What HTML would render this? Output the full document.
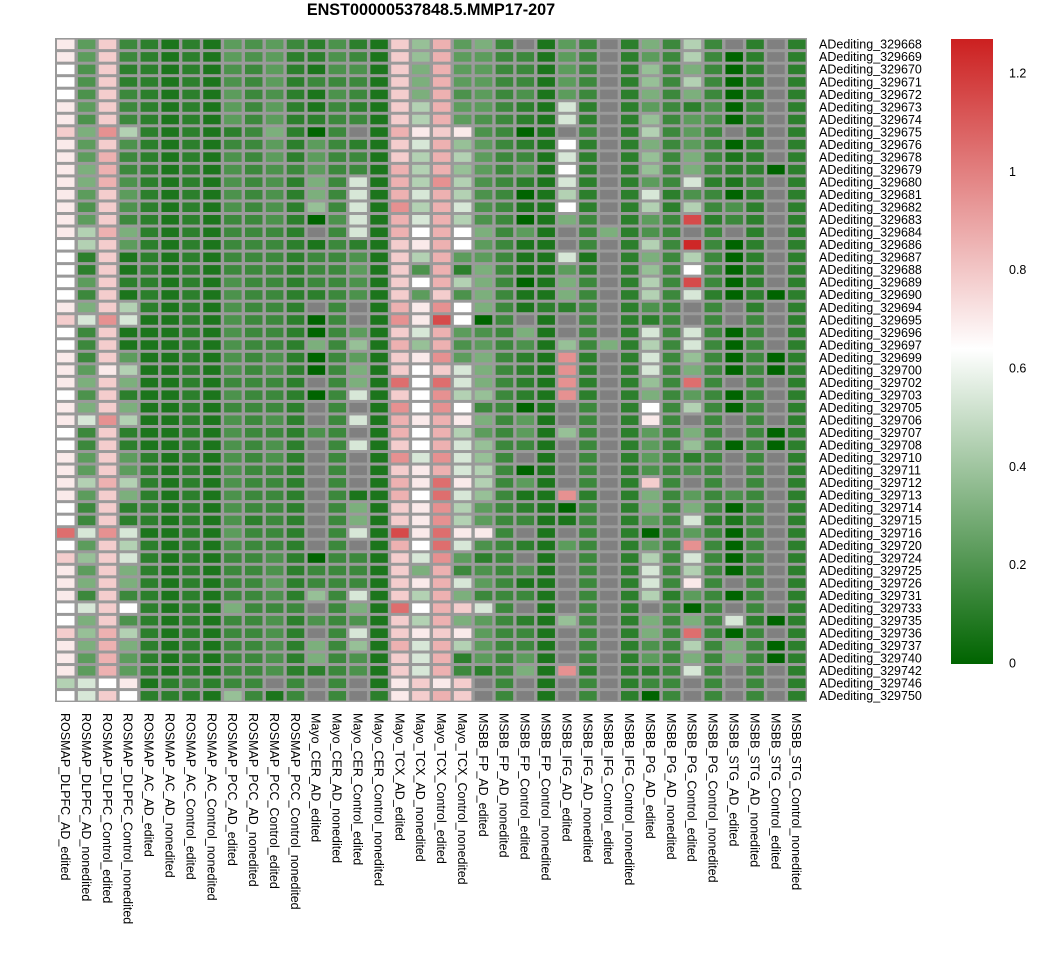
<!DOCTYPE html>
<html><head><meta charset="utf-8"><style>
html,body{margin:0;padding:0;background:#fff;}
svg text{font-family:"Liberation Sans",sans-serif;}
</style></head><body>
<svg id="chart" width="1059" height="953" xmlns="http://www.w3.org/2000/svg">
<text x="431" y="15" text-anchor="middle" font-size="16.2" font-weight="bold">ENST00000537848.5.MMP17-207</text>
<defs><linearGradient id="cb" x1="0" y1="1" x2="0" y2="0">
<stop offset="0" stop-color="#006400"/><stop offset="0.504" stop-color="#ffffff"/><stop offset="1" stop-color="#cc2020"/></linearGradient></defs>
<rect x="951" y="39" width="42" height="625" fill="url(#cb)"/>
<g id="cells"></g><g id="rowlabels"></g><g id="collabels"></g><g id="legendticks"></g>
</svg>
<script>
const columns=["ROSMAP_DLPFC_AD_edited","ROSMAP_DLPFC_AD_nonedited","ROSMAP_DLPFC_Control_edited","ROSMAP_DLPFC_Control_nonedited","ROSMAP_AC_AD_edited","ROSMAP_AC_AD_nonedited","ROSMAP_AC_Control_edited","ROSMAP_AC_Control_nonedited","ROSMAP_PCC_AD_edited","ROSMAP_PCC_AD_nonedited","ROSMAP_PCC_Control_edited","ROSMAP_PCC_Control_nonedited","Mayo_CER_AD_edited","Mayo_CER_AD_nonedited","Mayo_CER_Control_edited","Mayo_CER_Control_nonedited","Mayo_TCX_AD_edited","Mayo_TCX_AD_nonedited","Mayo_TCX_Control_edited","Mayo_TCX_Control_nonedited","MSBB_FP_AD_edited","MSBB_FP_AD_nonedited","MSBB_FP_Control_edited","MSBB_FP_Control_nonedited","MSBB_IFG_AD_edited","MSBB_IFG_AD_nonedited","MSBB_IFG_Control_edited","MSBB_IFG_Control_nonedited","MSBB_PG_AD_edited","MSBB_PG_AD_nonedited","MSBB_PG_Control_edited","MSBB_PG_Control_nonedited","MSBB_STG_AD_edited","MSBB_STG_AD_nonedited","MSBB_STG_Control_edited","MSBB_STG_Control_nonedited"];
const rowIds=["329668","329669","329670","329671","329672","329673","329674","329675","329676","329678","329679","329680","329681","329682","329683","329684","329686","329687","329688","329689","329690","329694","329695","329696","329697","329699","329700","329702","329703","329705","329706","329707","329708","329710","329711","329712","329713","329714","329715","329716","329720","329724","329725","329726","329731","329733","329735","329736","329737","329740","329742","329746","329750"];
const codeValues={"0":0,"1":0.07,"2":0.11,"3":0.15,"4":0.19,"5":0.23,"6":0.31,"7":0.38,"8":0.45,"9":0.54,"w":0.64,"a":0.70,"b":0.78,"c":0.86,"d":0.95,"e":1.05,"f":1.15,"g":1.25};
const values=[
["a","5","b","3","2","1","2","1","5","4","5","3","2","4","2","1","b","7","c","5","6","3",".","1","5","3",".","2","6","3","8","3",".","2",".","2"],
["a","5","b","3","2","1","2","1","5","4","5","2","2","4","3","1","b","7","c","5","5","3","3","1","5","3",".","2","5","3","8","3","0","2",".","2"],
["w","4","b","2","2","1","2","1","4","3","5","2","1","4","4","1","b","6","c","5","5","3","3","1","5","3",".","2","7","3","6","3","0","2",".","2"],
["w","4","b","2","2","1","2","1","4","3","5","2","3","3","3","1","b","6","c","5","5","3","3","1","5","3",".","2","7","3","8","3","0","2",".","2"],
["w","4","b","3","2","1","2","1","5","3","4","2","1","4","3","1","b","6","c","4","5","3","4","1","5","3",".","2","6","3","6","3","0","2",".","2"],
["a","5","b","3","2","1","2","1","5","3","5","2","1","3","2","1","b","8","c","5","5","3","2","1","9","2",".","2","5","3","2","4","0","3",".","2"],
["a","4","b","3","2","1","2","1","5","3","5","2","2","3","3","1","b","8","c","5","4","3","2","1","9","2",".","2","7","3","5","4","0","3",".","2"],
["b","6","d","8","2","1","2","1","2","3","6","2","0","3",".","1","c","a","b","a","4","3","0","1",".","3",".","2","8","3","5","3",".","2",".","2"],
["a","5","b","4","2","1","2","1","3","3","5","2","5","3","2","1","b","9","c","7","5","3","2","1","w","2",".","2","6","3","5","3","0","2",".","2"],
["a","5","c","3","2","1","2","1","4","3","5","2","5","3","3","1","b","8","c","8","5","3","3","1","9","2",".","2","7","3","6","3","1","2",".","2"],
["a","6","c","3","2","1","2","1","4","3","4","3","5","3","3","1","c","8","c","7","5","3","5","1","w","2",".","2","7","3","6","3","2","2","0","2"],
["a","6","c","4","2","1","2","1","4","3","4","2","6","3","9","1","c","8","d","8","4","3","2","1","9","2",".","2","5","3","9","2","1","3",".","2"],
["a","5","b","5","2","1","2","1","4","3","4","2","6","3","9","1","c","9","c","8","4","3","0","1","8","2",".","2","9","2","4","3","0","2",".","2"],
["a","4","b","4","2","1","2","1","4","3","4","2","7","3","9","1","d","8","c","9","4","3","1","1","w","2",".","2","8","2","8","3","4","2",".","2"],
["a","5","b","3","2","1","2","1","3","3","4","2","0","4","9","1","c","9","c","8","4","3","0","1","6","3",".","2","5","3","f","2","3","2",".","2"],
["a","8","c","6","2","1","2","1","3","3","3","2",".","3","9","1","c","w","c","w","6","3","5","1",".","3","6","2","4","3",".","3",".","2",".","2"],
["w","8","b","5","2","1","2","1","3","3","3","2","1","3","2","1","b","a","c","w","5","3","1","1",".","3",".","2","8","3","g","3","0","2",".","2"],
["w","2","b","1","2","1","2","1","3","3","3","2","3","3","4","1","b","8","c","5","5","3","1","1","9","1",".","2","6","3","8","3","0","2",".","2"],
["w","2","b","1","2","1","2","1","3","3","3","2","3","3","5","1","b","4","c","2","6","3","1","1","5","2",".","2","7","3","w","3","0","2",".","2"],
["w","5","b","2","2","1","2","1","4","3","3","2","3","3","4","1","b","w","c","8","6","3","0","1","6","3",".","2","8","3","f","3","0","2",".","2"],
["w","3","b","1","2","1","2","1","4","3","3","2","2","3","4","1","b","5","b","4","6","3","1","1","6","3",".","2","8","3","9","2","0","2","0","2"],
["a","6","b","8","2","1","2","1","4","3","3","2",".","3",".","1","c","a","d","w","6","3","1","2","2","3",".","2","4","3",".","3",".","2",".","2"],
["b","9","d","9","1","1","2","1","4","3","3","2","0","3",".","1","d","a","f","w","0","3",".","1",".","3",".","2","2","3",".","3",".","3",".","2"],
["w","3","b","1","1","1","2","1","4","3","3","2","0","3","5","1","b","9","c","5","4","3","6","1",".","3",".","2","9","3","9","3","0","3",".","2"],
["w","3","b","1","1","1","2","1","4","3","3","2","6","3","7","1","c","7","c","4","5","3","4","1","7","3","6","2","8","3","9","3","0","3",".","2"],
["a","3","b","5","1","1","2","1","4","3","4","2","0","3","5","1","b","a","d","5","6","3","2","1","d","2",".","2","9","3","7","3","0","3","0","2"],
["a","5","a","8","1","1","2","1","4","3","4","2","0","3","6","1","b","w","b","9","6","3","2","1","d","2",".","2","9","3","6","3","0","3","0","2"],
["a","6","b","6","1","1","2","1","3","3","3","2",".","3","6","1","e","w","e","9","6","3","2","1","d","2",".","2","7","3","e","3",".","3",".","2"],
["w","4","b","2","1","1","2","1","4","3","3","2","0","3","9","1","b","w","d","8","7","3","2","1","d","2",".","2","6","3","5","3","0","3",".","2"],
["a","6","b","6","1","1","2","1","3","3","3","2",".","3",".","1","d","w","d","w","3","3","0","1",".","3",".","2","w","3","8","3","0","3",".","2"],
["a","9","d","8","1","1","2","1","4","3","4","2",".","3","9","1","c","a","c","a","6","3","5","1",".","3",".","2","a","3",".","3",".","3",".","2"],
["w","3","b","2","1","1","2","1","4","3","3","2","4","3",".","1","c","w","c","8","5","3","5","1","7","3",".","2","5","3","6","3",".","3","0","2"],
["w","3","b","2","1","1","2","1","4","3","4","2",".","3","9","1","b","w","c","9","7","3","3","1",".","3",".","2","5","3","7","3","0","3","0","2"],
["a","5","b","5","2","1","2","1","4","3","4","2",".","3",".","1","d","9","d","9","7","3",".","1",".","3",".","2","5","3","2","3",".","3",".","2"],
["a","5","b","5","2","1","2","1","4","3","3","2",".","3",".","1","b","a","c","9","8","3","0","1",".","3",".","2","4","3","4","3",".","3",".","2"],
["a","8","c","8","2","1","2","1","4","3","3","2",".","3",".","1","c","a","e","a","8","3","5","1",".","3",".","2","b","3",".","3",".","3",".","2"],
["a","5","b","6","2","1","2","1","4","3","3","2",".","3","1","1","c","w","e","9","7","3","1","1","d","2",".","2","6","3","5","3","4","3",".","2"],
["w","3","b","2","2","1","2","1","4","3","3","2",".","3","6","1","b","a","d","8","5","3","2","1","0","3",".","2","6","3","6","3","0","3",".","2"],
["w","3","b","2","2","1","2","1","4","2","3","2",".","3","6","1","b","a","d","8","5","3","3","1","1","3",".","2","5","3","9","2","1","3",".","2"],
["e","9","d","9","1","1","2","1","5","3","3","2",".","3","9","1","f","a","e","a","a","3",".","1",".","3",".","2","0","3","5","3","0","3",".","2"],
["w","5","b","8","2","1","2","1","4","3","3","2",".","3",".","1","c","w","e","9","4","3","2","1","5","3",".","2","5","3","d","3","0","3",".","2"],
["b","7","b","9","2","1","2","1","3","3","4","2","0","3","3","1","b","9","d","5","2","3",".","1",".","3",".","2","8","3","9","3","0","3",".","2"],
["a","5","b","6","2","1","2","1","3","3","4","2","3","3","3","1","b","6","c","3","4","3","4","1",".","3",".","2","9","3","8","3","0","3",".","2"],
["a","6","b","6","2","1","2","1","3","3","5","2","3","3","3","1","b","a","c","9","5","3","1","1",".","3",".","2","9","3","a","3",".","3",".","2"],
["a","3","b","3","2","1","2","1","3","3","4","2","7","3","9","1","b","8","c","6","3","3","3","1",".","3",".","2","8","2","5","3","0","3",".","2"],
["w","9","b","w","2","1","2","1","6","3","3","3",".","3","6","1","e","w","c","b","9","3",".","1",".","3",".","2",".","3","0","3",".","3",".","2"],
["w","6","b","4","2","1","2","1","3","3","4","2","4","3","4","1","b","8","c","6","5","3","2","1","7","3",".","2","6","3","6","3","9","2","0","2"],
["b","7","c","8","2","1","2","1","3","3","4","2",".","3","9","1","b","a","b","a","5","3","3","1",".","3",".","2","6","3","e","3","0","3",".","2"],
["a","6","c","6","2","1","2","1","3","3","4","2","6","3","7","1","c","9","c","8","5","3","3","1",".","3",".","2","4","3","8","3","6","3","0","2"],
["a","5","c","5","2","1","2","1","3","3","4","2","6","3","4","1","b","9","c","2","5","3","5","1",".","3",".","2","5","3","6","3","6","3","0","2"],
["a","5","c","5","2","1","2","1","3","3","4","2","2","3","4","1","b","9","c","3","2","3","6","1","d","2",".","2","2","3","9","3",".","3",".","2"],
["8","9","w","a","1","2","3","2","3","3",".","3",".","3",".","1","a","b","a","b",".","3",".","1",".","3",".","2","3","3",".","3",".","3",".","2"],
["w","9","b","w","2","2","2","1","7","3","1","3",".","3",".","2","a","b","c","b",".","3",".","1",".","3",".","2","0","3",".","3",".","3",".","2"]
];
const legendTicks=[0,0.2,0.4,0.6,0.8,1,1.2];
const legendTickLabels=["0","0.2","0.4","0.6","0.8","1","1.2"];

const NS="http://www.w3.org/2000/svg";
const gx0=55,gx1=807,gy0=38,gy1=702;
const nC=columns.length,nR=rowIds.length;
const cw=(gx1-gx0)/nC,rh=(gy1-gy0)/nR;
const vMax=1.269,vMid=0.64;
function xPos(c){return gx0+c*cw;}
function yPos(r){return gy0+r*rh;}
function legendY(v){return 663-v*(663-39)/vMax;}
function color(v){
  let r,g,b;
  if(v<=vMid){const t=v/vMid;r=255*t;g=100+155*t;b=255*t;}
  else{const t=Math.min(1,(v-vMid)/(vMax-vMid));r=255-51*t;g=255-223*t;b=255-223*t;}
  return `rgb(${Math.round(r)},${Math.round(g)},${Math.round(b)})`;
}
const cells=document.getElementById('cells');
const bg=document.createElementNS(NS,'rect');
bg.setAttribute('x',gx0);bg.setAttribute('y',gy0);bg.setAttribute('width',gx1-gx0);bg.setAttribute('height',gy1-gy0);bg.setAttribute('fill','#9a9a9a');


cells.appendChild(bg);
for(let r=0;r<nR;r++){
  for(let c=0;c<nC;c++){
    const code=values[r][c];
    const rect=document.createElementNS(NS,'rect');
    rect.setAttribute('x',(xPos(c)+2).toFixed(2));
    rect.setAttribute('y',(yPos(r)+1.6).toFixed(2));
    rect.setAttribute('width',(cw-3.4).toFixed(2));
    rect.setAttribute('height',(rh-3).toFixed(2));
    rect.setAttribute('fill',code==='.'?'#808080':color(codeValues[code]));
    
    
    cells.appendChild(rect);
  }
}
const rl=document.getElementById('rowlabels');
rowIds.forEach((id,r)=>{
  const t=document.createElementNS(NS,'text');
  t.setAttribute('x',819);t.setAttribute('y',(yPos(r)+rh/2+4.4).toFixed(2));
  t.setAttribute('font-size','12.5');t.textContent='ADediting_'+id;
  
  
  rl.appendChild(t);
});
const cl=document.getElementById('collabels');
columns.forEach((name,c)=>{
  const t=document.createElementNS(NS,'text');
  const x=xPos(c)+cw/2-4.4;
  t.setAttribute('transform',`translate(${x.toFixed(2)},713) rotate(90)`);
  t.setAttribute('font-size','12.5');t.textContent=name;
  
  
  cl.appendChild(t);
});
const lt=document.getElementById('legendticks');
legendTicks.forEach((v,i)=>{
  const t=document.createElementNS(NS,'text');
  t.setAttribute('x',1009);t.setAttribute('y',(legendY(v)+4.5).toFixed(2));
  t.setAttribute('font-size','12.5');t.textContent=legendTickLabels[i];
  
  
  lt.appendChild(t);
});
</script>
</body></html>
